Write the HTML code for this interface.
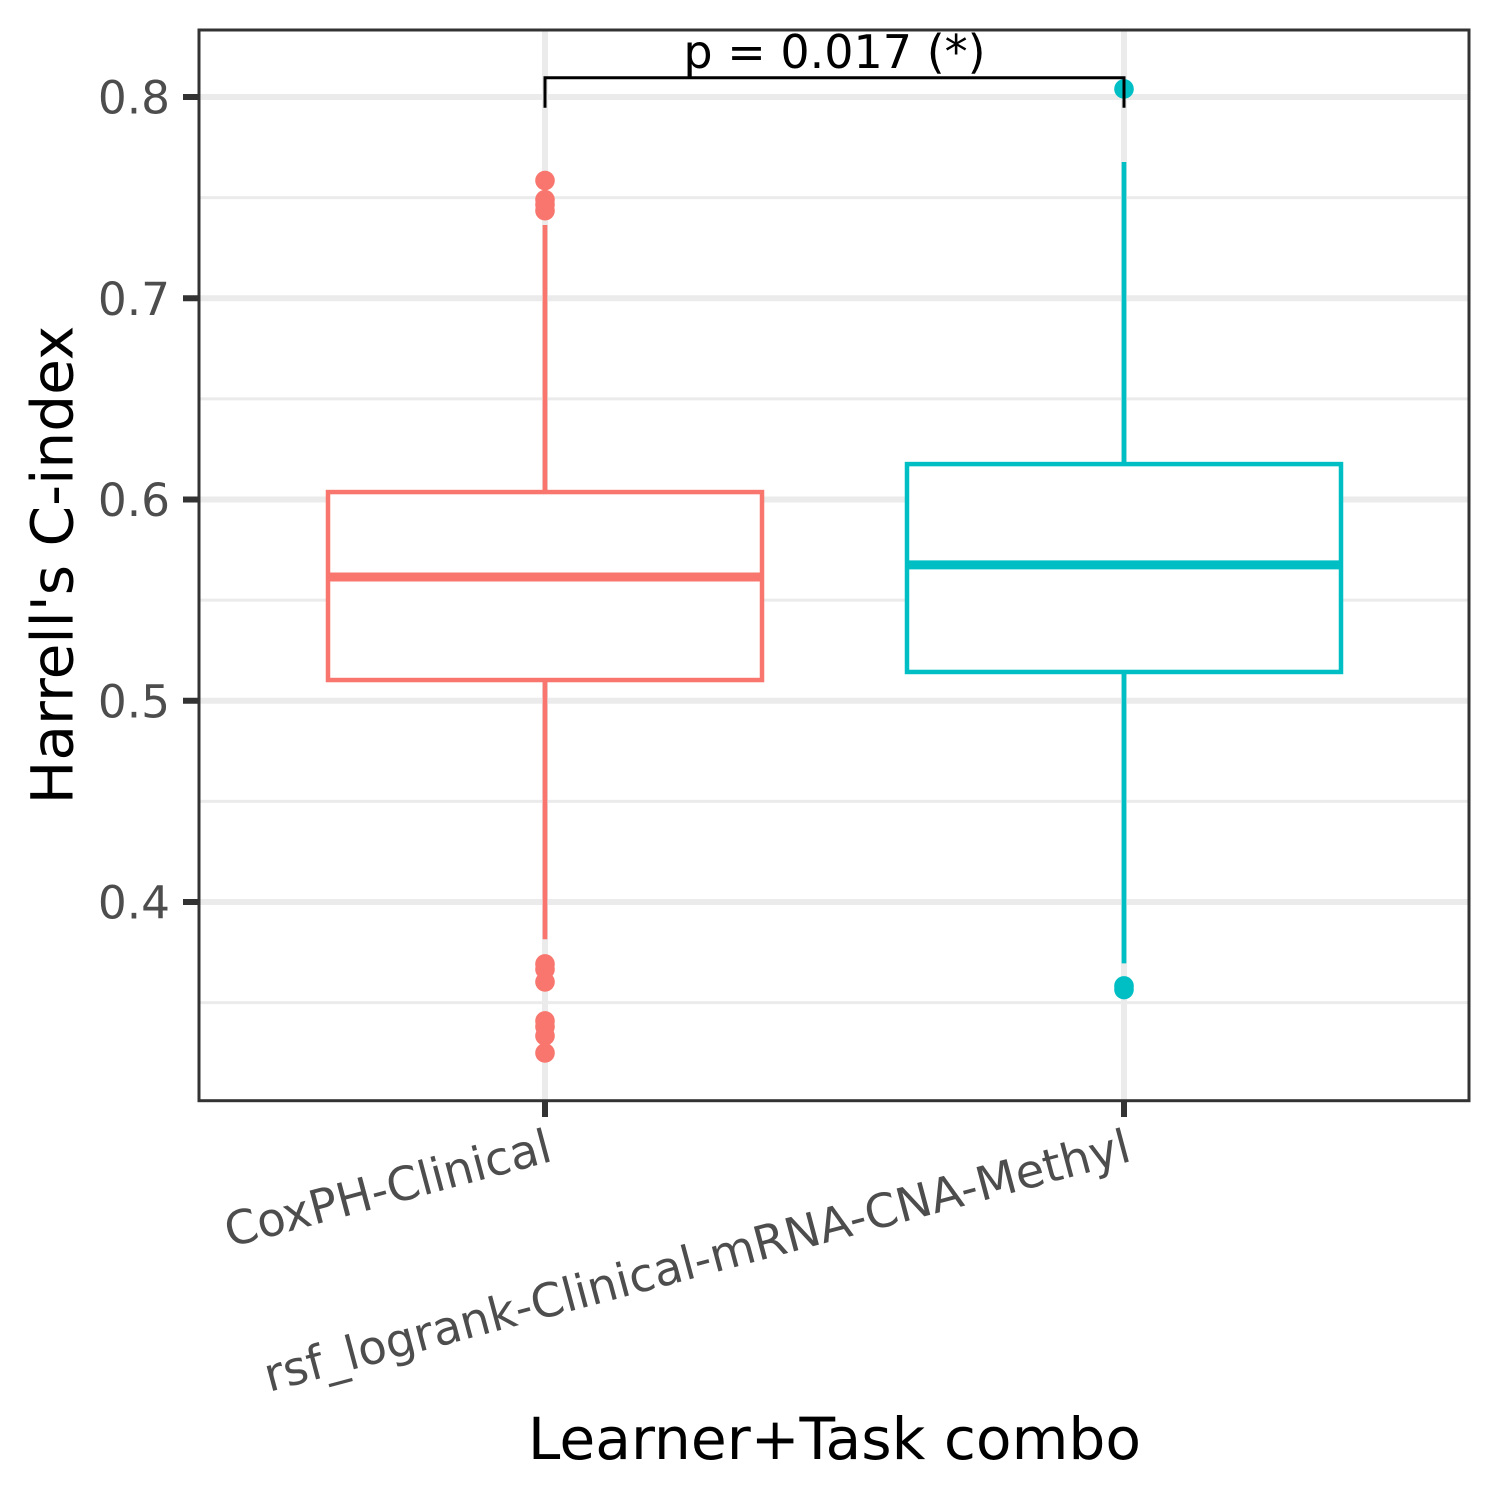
<!DOCTYPE html>
<html>
<head>
<meta charset="utf-8">
<style>
html,body{margin:0;padding:0;background:#fff;}
svg{display:block;}
text{font-family:"DejaVu Sans","Liberation Sans",sans-serif;}
</style>
</head>
<body>
<svg id="chart" xmlns="http://www.w3.org/2000/svg" width="1500" height="1500" viewBox="0 0 1500 1500"></svg>
<script>
const categories = ['CoxPH-Clinical', 'rsf_logrank-Clinical-mRNA-CNA-Methyl'];
const boxQ1 = [0.5103, 0.5143];
const boxMedian = [0.5615, 0.5675];
const boxQ3 = [0.6037, 0.6176];
const whiskerLow = [0.3815, 0.3695];
const whiskerHigh = [0.7364, 0.7677];
const outliersA = [0.7585, 0.749, 0.7465, 0.7435, 0.3692, 0.3665, 0.3603, 0.3409, 0.338, 0.3335, 0.325];
const outliersB = [0.804, 0.3583, 0.3565];
const seriesColors = ['#F8766D', '#00BFC4'];
const majorTicks = [0.4, 0.5, 0.6, 0.7, 0.8];
const minorTicks = [0.35, 0.45, 0.55, 0.65, 0.75];
const pLabel = 'p = 0.017 (*)';
const yAxisTitle = "Harrell's C-index";
const xAxisTitle = 'Learner+Task combo';

const panelLeft = 199, panelRight = 1469, panelTop = 30, panelBottom = 1100.7;
function yScale(v) { return 97 + (0.8 - v) * 2012.5; }
function xScale(i) { return 545 + i * 579; }
const boxHalf = 217;

const svg = document.getElementById('chart');
const NS = 'http://www.w3.org/2000/svg';
function make(tag, attrs, parent) {
  const el = document.createElementNS(NS, tag);
  for (const k in attrs) el.setAttribute(k, attrs[k]);
  (parent || svg).appendChild(el);
  return el;
}

// background
const bg = make('rect', {x: 0, y: 0, width: 1500, height: 1500, fill: '#fff'});



// grid
minorTicks.forEach(t => {
  const g = make('line', {x1: panelLeft, x2: panelRight, y1: yScale(t), y2: yScale(t), stroke: '#EBEBEB', 'stroke-width': 3});
  
  
});
majorTicks.forEach(t => {
  const g = make('line', {x1: panelLeft, x2: panelRight, y1: yScale(t), y2: yScale(t), stroke: '#EBEBEB', 'stroke-width': 6});
  
  
});
categories.forEach((c, i) => {
  const g = make('line', {x1: xScale(i), x2: xScale(i), y1: panelTop, y2: panelBottom, stroke: '#EBEBEB', 'stroke-width': 6});
  
  
});

// boxes
const outlierSets = [outliersA, outliersB];
categories.forEach((c, i) => {
  const col = seriesColors[i];
  const x = xScale(i);
  const wu = make('line', {x1: x, x2: x, y1: yScale(boxQ3[i]), y2: yScale(whiskerHigh[i]), stroke: col, 'stroke-width': 4.7});
  
  
  const wl = make('line', {x1: x, x2: x, y1: yScale(boxQ1[i]), y2: yScale(whiskerLow[i]), stroke: col, 'stroke-width': 4.7});
  
  
  const box = make('rect', {x: x - boxHalf, y: yScale(boxQ3[i]), width: boxHalf * 2, height: yScale(boxQ1[i]) - yScale(boxQ3[i]), fill: '#fff', stroke: col, 'stroke-width': 4.5});
  
  
  const med = make('line', {x1: x - boxHalf, x2: x + boxHalf, y1: yScale(boxMedian[i]), y2: yScale(boxMedian[i]), stroke: col, 'stroke-width': 9});
  
  
  outlierSets[i].forEach(v => {
    const p = make('circle', {cx: x, cy: yScale(v), r: 9.8, fill: col});
    
    
  });
});

// significance bracket
const bracketY = 77.7, bracketDrop = 107.7;
const br = make('path', {d: 'M' + xScale(0) + ' ' + bracketDrop + 'V' + bracketY + 'H' + xScale(1) + 'V' + bracketDrop, fill: 'none', stroke: '#000', 'stroke-width': 3});


const pt = make('text', {x: (xScale(0) + xScale(1)) / 2, y: 68, 'text-anchor': 'middle', 'font-size': 46, fill: '#000'});
pt.textContent = pLabel;



// panel border
const border = make('rect', {x: panelLeft, y: panelTop, width: panelRight - panelLeft, height: panelBottom - panelTop, fill: 'none', stroke: '#333', 'stroke-width': 3});



// y ticks
majorTicks.forEach(t => {
  const m = make('line', {x1: 183, x2: panelLeft, y1: yScale(t), y2: yScale(t), stroke: '#333', 'stroke-width': 6});
  
  
  const l = make('text', {x: 170, y: yScale(t) + 16.5, 'text-anchor': 'end', 'font-size': 45.4, fill: '#4D4D4D'});
  l.textContent = t.toFixed(1);
  
  
});

// x ticks
categories.forEach((c, i) => {
  const x = xScale(i);
  const m = make('line', {x1: x, x2: x, y1: panelBottom, y2: 1117, stroke: '#333', 'stroke-width': 6});
  
  
  const l = make('text', {x: 0, y: 0, 'text-anchor': 'end', 'font-size': 46.7, fill: '#4D4D4D', transform: 'translate(' + (x + 9) + ' 1160.5) rotate(-15)'});
  l.textContent = c;
  
  
});

// axis titles
const xt = make('text', {x: 834.5, y: 1459, 'text-anchor': 'middle', 'font-size': 58.3, fill: '#000'});
xt.textContent = xAxisTitle;


const yt = make('text', {x: 0, y: 0, 'text-anchor': 'middle', 'font-size': 58.2, fill: '#000', transform: 'translate(72.5 565) rotate(-90)'});
yt.textContent = yAxisTitle;


</script>
</body>
</html>
